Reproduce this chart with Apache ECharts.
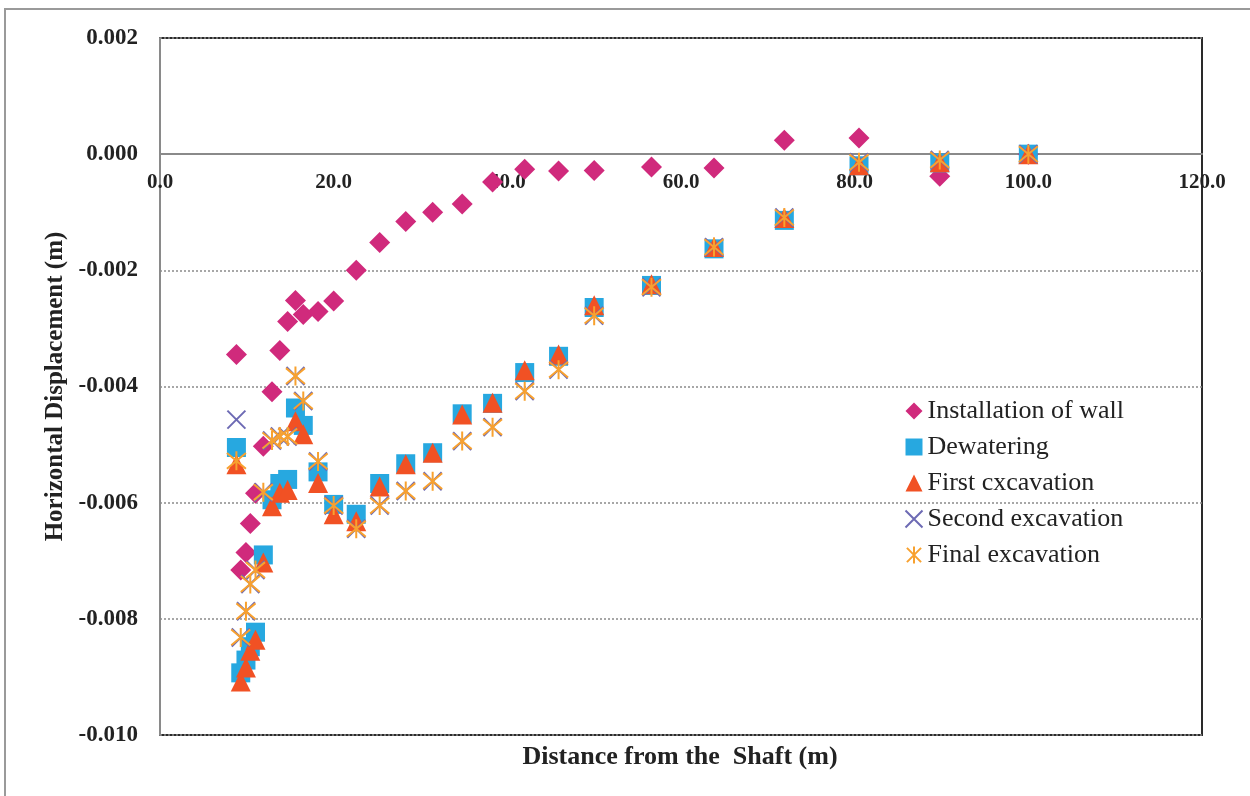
<!DOCTYPE html>
<html>
<head>
<meta charset="utf-8">
<script src="https://cdn.jsdelivr.net/npm/echarts@6/dist/echarts.min.js"></script>
<style>
  html, body { margin: 0; padding: 0; background: #fff; }
  #chart { width: 1250px; height: 796px; }
</style>
</head>
<body>
<div id="chart"></div>
<script>
// Distance from the shaft (m) of each monitoring point
const distance = [8.8, 9.3, 9.9, 10.4, 11.0, 11.9, 12.9, 13.8, 14.7, 15.6, 16.5, 18.2, 20.0, 22.6,
  25.3, 28.3, 31.4, 34.8, 38.3, 42.0, 45.9, 50.0, 56.6, 63.8, 71.9, 80.5, 89.8, 100.0];

// Horizontal displacement (m) for each construction stage
const installationOfWall = [-0.00345, -0.00716, -0.00686, -0.00636, -0.00584, -0.00503, -0.00409, -0.00338,
  -0.00288, -0.00252, -0.00276, -0.00271, -0.00253, -0.00200, -0.00152, -0.00116, -0.00100, -0.00086,
  -0.00048, -0.00026, -0.00029, -0.00028, -0.00022, -0.00024, 0.00024, 0.00028, -0.00038, 0.0];
const dewatering = [-0.00505, -0.00893, -0.00871, -0.00848, -0.00823, -0.00690, -0.00595, -0.00567,
  -0.00560, -0.00437, -0.00467, -0.00547, -0.00603, -0.00620, -0.00567, -0.00533, -0.00514, -0.00447,
  -0.00429, -0.00376, -0.00348, -0.00264, -0.00226, -0.00163, -0.00114, -0.00020, -0.00015, 0.0];
const firstExcavation = [-0.00534, -0.00908, -0.00884, -0.00855, -0.00836, -0.00703, -0.00606, -0.00583,
  -0.00578, -0.00460, -0.00482, -0.00566, -0.00620, -0.00632, -0.00572, -0.00534, -0.00514, -0.00448,
  -0.00428, -0.00372, -0.00345, -0.00260, -0.00224, -0.00160, -0.00110, -0.00019, -0.00014, 0.0];
const secondExcavation = [-0.00457, -0.00832, -0.00787, -0.00740, -0.00716, -0.00582, -0.00493, -0.00486,
  -0.00486, -0.00382, -0.00425, -0.00529, -0.00605, -0.00645, -0.00605, -0.00580, -0.00563, -0.00494,
  -0.00470, -0.00408, -0.00371, -0.00278, -0.00229, -0.00160, -0.00109, -0.00014, -0.00010, 0.0];
const finalExcavation = [-0.00528, -0.00832, -0.00787, -0.00740, -0.00716, -0.00582, -0.00493, -0.00486,
  -0.00486, -0.00382, -0.00425, -0.00529, -0.00605, -0.00645, -0.00605, -0.00580, -0.00563, -0.00494,
  -0.00470, -0.00408, -0.00371, -0.00278, -0.00229, -0.00160, -0.00109, -0.00014, -0.00010, 0.0];

const seriesNames = ['Installation of wall', 'Dewatering', 'First cxcavation', 'Second excavation', 'Final excavation'];
const xTitle = 'Distance from the  Shaft (m)';
const yTitle = 'Horizontal Displacement (m)';

const pairs = (vals) => distance.map((d, i) => [d, vals[i]]);

const serif = '"Liberation Serif", "DejaVu Serif", serif';
const crossPath = 'path://M0,0L10,10M10,0L0,10';
const asteriskPath = 'path://M0,0L10,10M10,0L0,10M5,-1L5,11';

const chart = echarts.init(document.getElementById('chart'), null, { renderer: 'canvas' });

chart.setOption({
  animation: false,
  backgroundColor: '#fff',
  graphic: [{
    type: 'rect',
    shape: { x: 5, y: 9, width: 1260, height: 800 },
    style: { fill: 'none', stroke: '#9a9a9a', lineWidth: 2 },
    silent: true, z: -10
  }, {
    // x-axis title sits under the frame, while the axis itself runs along zero
    type: 'text',
    x: 680, y: 757,
    style: {
      text: xTitle, x: 0, y: 0,
      font: 'bold 26px ' + serif, fill: '#222',
      textAlign: 'center', textVerticalAlign: 'middle'
    },
    silent: true
  }],
  grid: {
    left: 160, right: 48, top: 38, bottom: 61, containLabel: false,
    show: true, borderColor: '#2a2a2a', borderWidth: 2, backgroundColor: 'transparent'
  },
  legend: {
    orient: 'vertical',
    left: 903,
    top: 398,
    padding: 0,
    itemWidth: 17,
    itemHeight: 17,
    itemGap: 10,
    textStyle: { fontFamily: serif, fontSize: 26, color: '#222' },
    data: seriesNames
  },
  xAxis: {
    type: 'value',
    position: 'bottom',
    min: 0, max: 120, interval: 20,
    axisLine: { onZero: false, lineStyle: { color: '#8a8a8a', width: 2 } },
    axisTick: { show: false },
    splitLine: { show: false },
    axisLabel: {
      margin: 18,
      fontFamily: serif, fontSize: 21, fontWeight: 'bold', color: '#222',
      formatter: (v) => v.toFixed(1)
    }
  },
  yAxis: {
    type: 'value',
    min: -0.010, max: 0.002, interval: 0.002,
    axisLine: { show: true, onZero: false, lineStyle: { color: '#8a8a8a', width: 2 } },
    axisTick: { show: false },
    splitLine: { show: true, lineStyle: { color: '#8a8a8a', type: [2, 2], width: 1.5 } },
    axisLabel: {
      margin: 22,
      padding: [6, 0, 0, 0],
      fontFamily: serif, fontSize: 23, fontWeight: 'bold', color: '#222',
      formatter: (v) => v.toFixed(3)
    },
    name: yTitle,
    nameLocation: 'middle',
    nameGap: 84,
    nameTextStyle: { fontFamily: serif, fontSize: 25, fontWeight: 'bold', color: '#222' }
  },
  series: [{
    name: seriesNames[0], type: 'scatter',
    symbol: 'diamond', symbolSize: 21,
    itemStyle: { color: '#D02A7C', opacity: 1 },
    data: pairs(installationOfWall)
  }, {
    name: seriesNames[1], type: 'scatter',
    symbol: 'rect', symbolSize: 19,
    itemStyle: { color: '#27A8E0', opacity: 1 },
    data: pairs(dewatering)
  }, {
    name: seriesNames[2], type: 'scatter',
    symbol: 'triangle', symbolSize: 20,
    itemStyle: { color: '#F15124', opacity: 1 },
    data: pairs(firstExcavation)
  }, {
    name: seriesNames[3], type: 'scatter',
    symbol: crossPath, symbolSize: 18,
    itemStyle: { color: 'none', borderColor: '#6D6AB4', borderWidth: 2, opacity: 1 },
    data: pairs(secondExcavation)
  }, {
    name: seriesNames[4], type: 'scatter',
    symbol: asteriskPath, symbolSize: 19,
    itemStyle: { color: 'none', borderColor: '#F8A12F', borderWidth: 2, opacity: 1 },
    data: pairs(finalExcavation)
  }]
});

// Lift the x axis (line and labels) from the frame bottom to the zero displacement line
const bottomPx = chart.convertToPixel({ yAxisIndex: 0 }, -0.010);
const zeroPx = chart.convertToPixel({ yAxisIndex: 0 }, 0);
chart.setOption({ xAxis: { offset: -(bottomPx - zeroPx) } });
</script>
</body>
</html>
